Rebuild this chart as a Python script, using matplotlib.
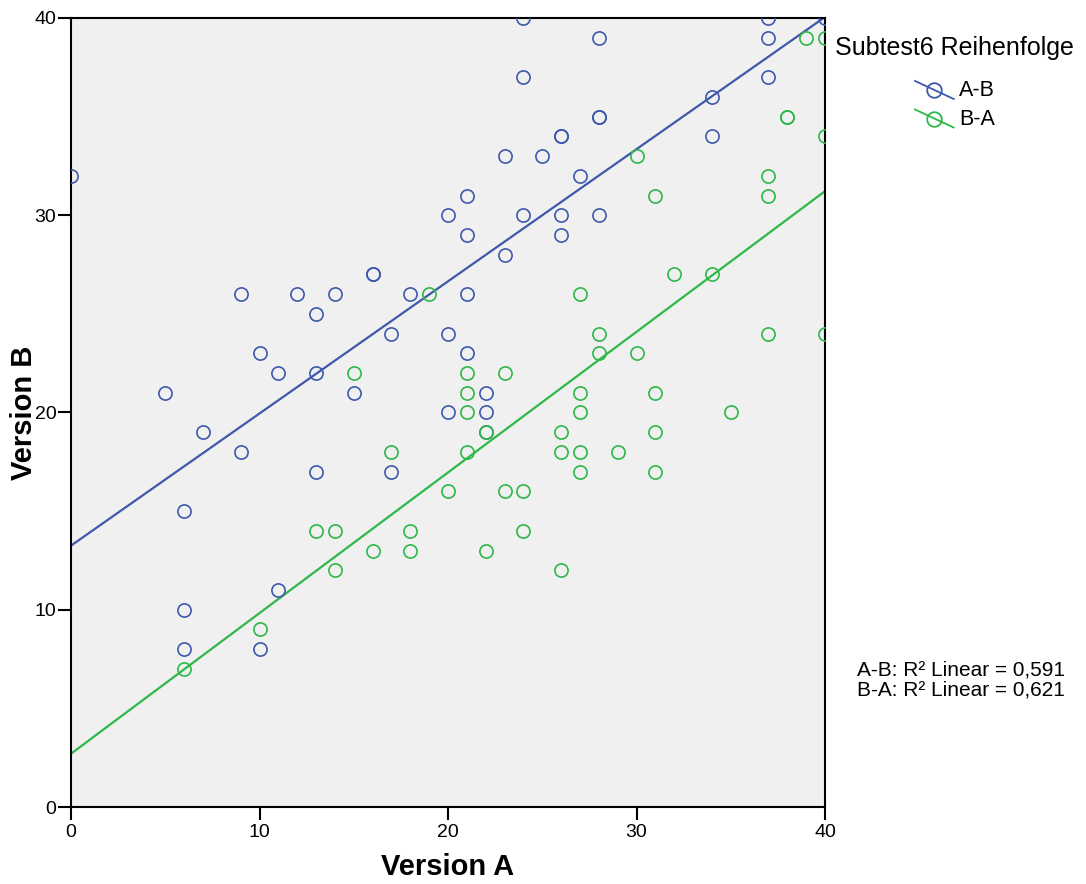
# Subtest6: Version A vs Version B, split by order (A-B / B-A)

import numpy as np
import matplotlib
matplotlib.use("Agg")
import matplotlib.pyplot as plt
from matplotlib.lines import Line2D

# A-B group (blue)
ab_a = [0, 24, 37, 40, 28, 37, 24, 37, 28, 28, 34, 26, 26, 34, 23, 25, 27, 21,
        20, 24, 26, 28, 21, 26, 23, 16, 16, 9, 12, 14, 18, 21, 13, 17, 20, 10,
        21, 11, 13, 5, 15, 22, 20, 22, 7, 22, 9, 13, 17, 6, 11, 6, 6, 10]
ab_b = [32, 40, 40, 40, 39, 39, 37, 37, 35, 35, 36, 34, 34, 34, 33, 33, 32, 31,
        30, 30, 30, 30, 29, 29, 28, 27, 27, 26, 26, 26, 26, 26, 25, 24, 24, 23,
        23, 22, 22, 21, 21, 21, 20, 20, 19, 19, 18, 17, 17, 15, 11, 10, 8, 8]

# B-A group (green)
ba_a = [39, 40, 38, 38, 40, 30, 37, 31, 37, 32, 34, 19, 27, 28, 37, 40, 28, 30,
        15, 21, 23, 21, 27, 31, 21, 27, 35, 22, 26, 31, 17, 21, 26, 27, 29, 27,
        31, 20, 23, 24, 13, 14, 18, 24, 16, 18, 22, 14, 26, 10, 6]
ba_b = [39, 39, 35, 35, 34, 33, 32, 31, 31, 27, 27, 26, 26, 24, 24, 24, 23, 23,
        22, 22, 22, 21, 21, 21, 20, 20, 20, 19, 19, 19, 18, 18, 18, 18, 18, 17,
        17, 16, 16, 16, 14, 14, 14, 14, 13, 13, 13, 12, 12, 9, 7]

# linear fit lines as shown in the chart (intercept, slope)
fit_ab = [13.25, 0.670]
fit_ba = [2.70, 0.713]

groups = ["A-B", "B-A"]
colors = ["#3e58ac", "#2eb848"]
r2_text = ["A-B: R\u00b2 Linear = 0,591", "B-A: R\u00b2 Linear = 0,621"]
ticks = [0, 10, 20, 30, 40]

plt.rcParams["font.family"] = ["Liberation Sans", "DejaVu Sans"]


class DiagHandler:
    # SPSS-style legend key: circle with a diagonal line through it
    def legend_artist(self, legend, orig_handle, fontsize, handlebox):
        x0, y0 = -handlebox.xdescent, -handlebox.ydescent
        w, h = handlebox.width, handlebox.height
        c = orig_handle.get_color()
        tr = handlebox.get_transform()
        ln = Line2D([x0, x0 + w], [y0 + h * 1.0, y0 - h * 0.2], color=c, lw=1.3,
                    transform=tr)
        mk = Line2D([x0 + w / 2], [y0 + h * 0.4], marker="o", ms=10.5, mfc="none",
                    mec=c, mew=1.3, ls="none", transform=tr)
        handlebox.add_artist(ln)
        handlebox.add_artist(mk)
        return ln


fig = plt.figure(figsize=(10.86, 8.84), dpi=100)
ax = fig.add_axes([71 / 1086, 1 - 807 / 884, (825 - 71) / 1086, (807 - 18) / 884])
ax.set_facecolor("#f0f0f0")

handles = []
xx = np.array([0, 40])
for xs, ys, c, g, fit in zip([ab_a, ba_a], [ab_b, ba_b], colors, groups,
                             [fit_ab, fit_ba]):
    ax.plot(xs, ys, "o", ms=9.5, mfc="none", mec=c, mew=1.2, zorder=3)
    ax.plot(xx, fit[0] + fit[1] * xx, color=c, lw=1.6, zorder=2)
    handles.append(Line2D([], [], color=c, label=g))

ax.set_xlim(0, 40)
ax.set_ylim(0, 40)
ax.set_xticks(ticks)
ax.set_yticks(ticks)
ax.tick_params(direction="out", length=9.5, width=1.5, labelsize=14)
ax.tick_params(axis="y", pad=1)
ax.tick_params(axis="x", pad=3)
for s in ax.spines.values():
    s.set_linewidth(1.5)
ax.set_xlabel("Version A", fontsize=21, fontweight="bold", va="center")
ax.xaxis.set_label_coords(0.5, (807 - 867) / 789)
ax.set_ylabel("Version B", fontsize=21, fontweight="bold", va="center")
ax.yaxis.set_label_coords((24 - 71) / 754, 0.5)

fig.text(835 / 1086, 1 - 48 / 884, "Subtest6 Reihenfolge", fontsize=18,
         va="center", ha="left")
fig.legend(handles=handles, frameon=False, loc="upper left",
           bbox_to_anchor=(915 / 1086, 1 - 80 / 884), borderaxespad=0,
           borderpad=0, fontsize=15.5, handlelength=1.8, handletextpad=0.25,
           labelspacing=0.35, handler_map={Line2D: DiagHandler()})

fig.text(857 / 1086, 1 - 680 / 884, "\n".join(r2_text), fontsize=15,
         va="center", ha="left", linespacing=1.03)

fig.savefig("out.png", dpi=100)
